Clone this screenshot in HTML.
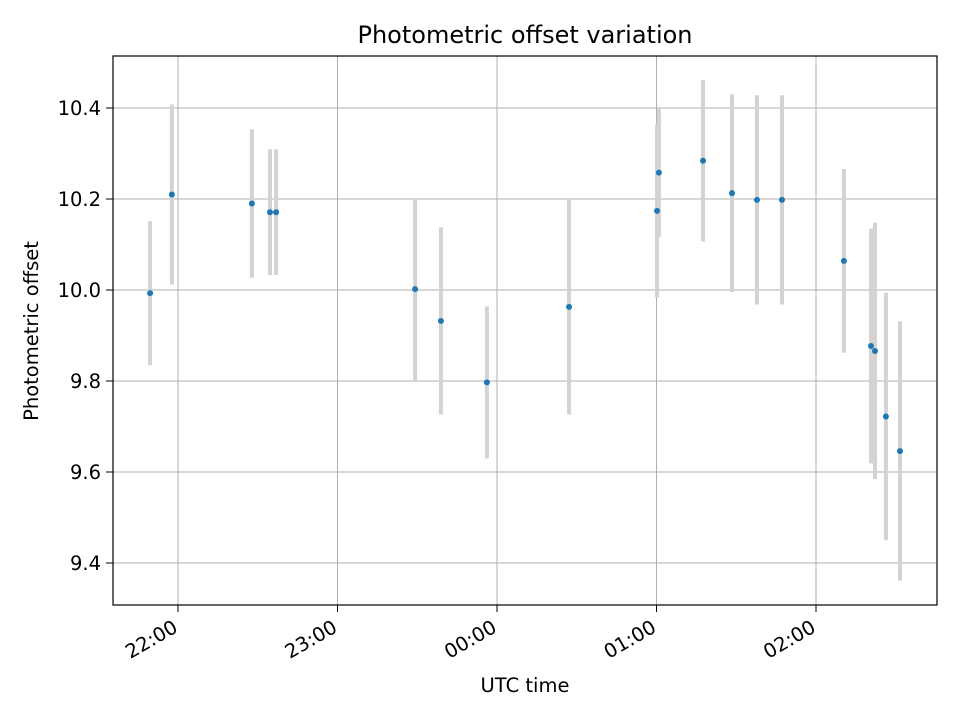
<!DOCTYPE html>
<html><head><meta charset="utf-8">
<style>
body{margin:0;background:#fff;font-family:"Liberation Sans","DejaVu Sans",sans-serif}
svg text{font-family:"DejaVu Sans","Liberation Sans",sans-serif;fill:#000}
</style></head>
<body>
<svg id="chart" width="960" height="720">
  <rect width="960" height="720" fill="#fff"/>
  <g id="grid"></g>
  <g id="errs"></g>
  <g id="pts"></g>
  <rect x="113" y="56" width="824" height="549" fill="none" stroke="#000" stroke-width="1.2"/>
  <g id="xt"></g>
  <g id="yt"></g>
  <text x="525" y="43" text-anchor="middle" font-size="24">Photometric offset variation</text>
  <text x="525" y="692" text-anchor="middle" font-size="19.5">UTC time</text>
  <text transform="translate(38,331) rotate(-90)" text-anchor="middle" font-size="19.5">Photometric offset</text>
</svg>
<script>
// minutes after 21:00 UTC
const times=[49.5,57.7,87.8,94.6,96.9,149.2,158.9,176.2,207.1,240.2,240.9,257.5,268.4,277.8,287.2,310.5,320.7,322.2,326.3,331.6];
const offsets=[9.993,10.21,10.19,10.171,10.171,10.002,9.932,9.797,9.963,10.174,10.258,10.284,10.213,10.198,10.198,10.064,9.877,9.866,9.722,9.646];
const errors=[0.158,0.198,0.163,0.138,0.138,0.2,0.206,0.167,0.237,0.19,0.142,0.177,0.217,0.23,0.23,0.202,0.258,0.282,0.272,0.285];
const xTickVals=[60,120,180,240,300];
const xTickLabels=["22:00","23:00","00:00","01:00","02:00"];
const yTickVals=[9.4,9.6,9.8,10.0,10.2,10.4];
const yTickLabels=["9.4","9.6","9.8","10.0","10.2","10.4"];

const X=m=>178+(m-60)*159.5/60;
const Y=v=>290-(v-10)*455;
const NS="http://www.w3.org/2000/svg";
function mk(tag,parent,attrs){const e=document.createElementNS(NS,tag);for(const k in attrs)e.setAttribute(k,attrs[k]);document.getElementById(parent).appendChild(e);return e;}

xTickVals.forEach((t,i)=>{
  const x=X(t);
  const g=mk('line','grid',{x1:x,x2:x,y1:56,y2:605,stroke:'#b0b0b0','stroke-width':1});
  
  
  const tk=mk('line','xt',{x1:x,x2:x,y1:605,y2:612,stroke:'#000'});
  
  
  const tx=mk('text','xt',{transform:`translate(${x+1},${631}) rotate(-30)`,'text-anchor':'end','font-size':19.5});
  tx.textContent=xTickLabels[i];
  
  
});
yTickVals.forEach((v,i)=>{
  const y=Y(v);
  const g=mk('line','grid',{x1:113,x2:937,y1:y,y2:y,stroke:'#b0b0b0','stroke-width':1});
  
  
  const tk=mk('line','yt',{x1:106,x2:113,y1:y,y2:y,stroke:'#000'});
  
  
  const tx=mk('text','yt',{x:101,y:y+7,'text-anchor':'end','font-size':19.5});
  tx.textContent=yTickLabels[i];
  
  
});
times.forEach((t,i)=>{
  const x=X(t);
  const e=mk('line','errs',{x1:x,x2:x,y1:Y(offsets[i]+errors[i]),y2:Y(offsets[i]-errors[i]),stroke:'#d3d3d3','stroke-width':4});
  
  
  const c=mk('circle','pts',{cx:x,cy:Y(offsets[i]),r:3,fill:'#1f77b4'});
  
  
});
</script>
</body></html>
